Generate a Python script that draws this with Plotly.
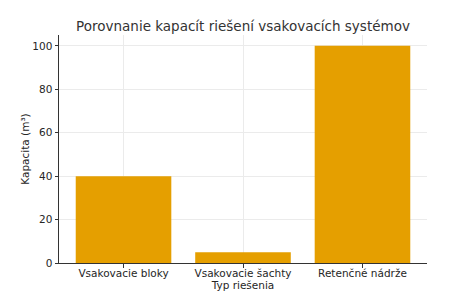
import plotly.graph_objects as go

categories = ["Vsakovacie bloky", "Vsakovacie šachty", "Retenčné nádrže"]
values = [40, 5, 100]
y_ticks = [0, 20, 40, 60, 80, 100]

font = "DejaVu Sans, sans-serif"
fig = go.Figure()
fig.add_trace(go.Bar(x=list(range(len(categories))), y=values, width=0.8,
                     marker=dict(color="#E59F00", line=dict(width=0))))
fig.update_layout(
    width=474, height=296,
    margin=dict(l=59, r=47, t=35, b=33, autoexpand=False),
    paper_bgcolor="white", plot_bgcolor="white",
    font=dict(family=font, size=10.5, color="#262626"),
    title=dict(text="Porovnanie kapacít riešení vsakovacích systémov",
               x=243/474, xanchor="center", y=1-26/296, yanchor="middle",
               font=dict(size=13.5, color="#333333")),
    showlegend=False,
)
fig.update_xaxes(range=[-0.54, 2.54], tickvals=list(range(len(categories))),
                 ticktext=categories, showline=True, linecolor="#333333", linewidth=1,
                 ticks="outside", ticklen=3.5, tickcolor="#333333", automargin=False,
                 ticklabelstandoff=-3,
                 showgrid=True, gridcolor="#ebebeb", gridwidth=1, zeroline=False,
                 title=dict(text="Typ riešenia", standoff=1, font=dict(size=10.5)))
fig.update_yaxes(range=[0, 105], tickvals=y_ticks, showline=True, linecolor="#333333",
                 linewidth=1, ticks="outside", ticklen=3.5, tickcolor="#333333",
                 automargin=False,
                 showgrid=True, gridcolor="#ebebeb", gridwidth=1, zeroline=False,
                 title=dict(text="Kapacita (m³)", standoff=0, font=dict(size=10.5)))
fig.write_html("out.html")
